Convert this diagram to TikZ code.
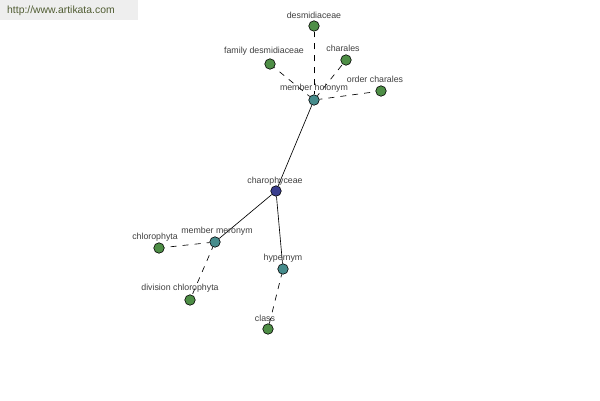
\documentclass[tikz,border=0pt]{standalone}
\usepackage{fontspec}
\setmainfont{Liberation Sans}
\begin{document}
\begin{tikzpicture}[x=1pt,y=-1pt,
  dot/.style={circle,draw=black,line width=0.6pt,minimum size=10.5pt,inner sep=0pt},
  leaf/.style={dot,fill=leafc},
  rel/.style={dot,fill=relc},
  root/.style={dot,fill=rootc},
  lbl/.style={font=\fontsize{8.8}{9}\selectfont,text=black!75,inner sep=0pt},
  solidedge/.style={draw=black,line width=0.65pt},
  dashedge/.style={draw=black,line width=0.65pt,dash pattern=on 6pt off 6pt,dash phase=3pt}]
\definecolor{leafc}{RGB}{78,142,70}
\definecolor{relc}{RGB}{70,140,140}
\definecolor{rootc}{RGB}{58,62,142}
\definecolor{bannerc}{RGB}{238,238,238}
\definecolor{urlc}{RGB}{80,92,50}
\useasboundingbox (0,0) rectangle (600,400);
\fill[white] (0,0) rectangle (600,400);
\fill[bannerc] (0,0) rectangle (138,20);
\node[anchor=west,font=\fontsize{10.4}{11}\selectfont,text=urlc,inner sep=0pt] (url) at (7,10.5) {http://www.artikata.com};
% nodes
\node[leaf] (desm) at (314,26) {};
\node[leaf] (famd) at (270,64) {};
\node[leaf] (char) at (346,60) {};
\node[leaf] (ordc) at (381,91) {};
\node[rel] (hol) at (314,100) {};
\node[root] (chp) at (276,191) {};
\node[rel] (mer) at (215,242) {};
\node[leaf] (chl) at (159,248) {};
\node[leaf] (div) at (190,300) {};
\node[rel] (hyp) at (283,269) {};
\node[leaf] (cls) at (268,329) {};
% edges
\draw[solidedge] (hol) -- (chp);
\draw[solidedge] (chp) -- (mer);
\draw[solidedge] (chp) -- (hyp);
\draw[dashedge] (hol) -- (desm);
\draw[dashedge] (hol) -- (famd);
\draw[dashedge] (hol) -- (char);
\draw[dashedge] (hol) -- (ordc);
\draw[dashedge] (mer) -- (chl);
\draw[dashedge] (mer) -- (div);
\draw[dashedge] (hyp) -- (cls);
% labels
\node[lbl] (ldesm) at (314,15) {desmidiaceae};
\node[lbl] (lfamd) at (264,51) {family desmidiaceae};
\node[lbl] (lchar) at (343,48) {charales};
\node[lbl] (lordc) at (375,79) {order charales};
\node[lbl] (lhol) at (314,88) {member holonym};
\node[lbl] (lchp) at (275,181) {charophyceae};
\node[lbl] (lmer) at (217,231) {member meronym};
\node[lbl] (lchl) at (155,237) {chlorophyta};
\node[lbl] (ldiv) at (180,288) {division chlorophyta};
\node[lbl] (lhyp) at (283,258) {hypernym};
\node[lbl] (lcls) at (265,318) {class};
\end{tikzpicture}
\end{document}
